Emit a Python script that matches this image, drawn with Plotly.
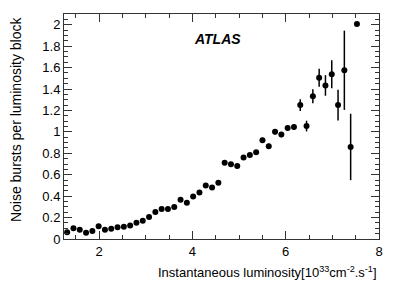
import plotly.graph_objects as go

lumi = [1.3175, 1.4525, 1.5875, 1.7225, 1.8575, 1.9925, 2.1275, 2.2625, 2.3975, 2.5325,
        2.6675, 2.8025, 2.9375, 3.0725, 3.2075, 3.3425, 3.4775, 3.6125, 3.7475, 3.8825,
        4.0175, 4.1525, 4.2875, 4.4225, 4.5575, 4.6925, 4.8275, 4.9625, 5.0975, 5.2325,
        5.3675, 5.5025, 5.6375, 5.7725, 5.9075, 6.0425, 6.1775, 6.3125, 6.4475, 6.5825,
        6.7175, 6.8525, 6.9875, 7.1225, 7.2575, 7.3925, 7.5275]
bursts = [0.062, 0.100, 0.087, 0.059, 0.074, 0.118, 0.087, 0.096, 0.109, 0.115,
          0.127, 0.152, 0.170, 0.205, 0.251, 0.279, 0.279, 0.298, 0.366, 0.338,
          0.397, 0.434, 0.500, 0.481, 0.524, 0.712, 0.698, 0.682, 0.760, 0.784,
          0.809, 0.922, 0.865, 1.000, 0.975, 1.035, 1.045, 1.250, 1.054, 1.333,
          1.504, 1.433, 1.538, 1.250, 1.575, 0.859, 2.006]
errors = [0.01, 0.01, 0.01, 0.01, 0.01, 0.01, 0.01, 0.01, 0.01, 0.01,
          0.01, 0.01, 0.01, 0.01, 0.01, 0.01, 0.01, 0.01, 0.012, 0.012,
          0.012, 0.012, 0.012, 0.012, 0.012, 0.015, 0.015, 0.015, 0.015, 0.015,
          0.015, 0.025, 0.025, 0.025, 0.025, 0.025, 0.025, 0.055, 0.05, 0.065,
          0.084, 0.096, 0.13, 0.143, 0.37, 0.31, 0.0]

x_ticks = [2, 4, 6, 8]
y_ticks = [0, 0.2, 0.4, 0.6, 0.8, 1, 1.2, 1.4, 1.6, 1.8, 2]
y_ticklabels = ["0", "0.2", "0.4", "0.6", "0.8", "1", "1.2", "1.4", "1.6", "1.8", "2"]

FONT = "Liberation Sans, Arial, Helvetica, sans-serif"

fig = go.Figure()
fig.add_trace(go.Scatter(
    x=lumi, y=bursts, mode="markers",
    marker=dict(color="black", size=6, symbol="circle"),
    error_y=dict(type="data", array=errors, visible=True, color="black",
                 thickness=1.5, width=0),
    showlegend=False, cliponaxis=True,
))

axis_common = dict(
    showgrid=False, zeroline=False, showline=True, linecolor="#333333", linewidth=1,
    mirror="ticks", ticks="inside", ticklen=8, tickcolor="#333333", tickwidth=1,
    tickfont=dict(family=FONT, size=13, color="black"), automargin=False,
)

fig.update_xaxes(range=[1.25, 8], tickvals=x_ticks, ticktext=[str(v) for v in x_ticks],
                 minor=dict(ticks="inside", ticklen=4, dtick=0.5, tick0=0,
                            tickcolor="#333333"),
                 **axis_common)
fig.update_yaxes(range=[0, 2.1], tickvals=y_ticks, ticktext=y_ticklabels,
                 minor=dict(ticks="inside", ticklen=4, dtick=0.05, tick0=0,
                            tickcolor="#333333"),
                 **axis_common)

fig.add_annotation(xref="paper", yref="paper", x=1.0, y=-0.145, xanchor="right",
                   yanchor="middle", showarrow=False,
                   text="Instantaneous luminosity[10<sup>33</sup>cm<sup>-2</sup>.s<sup>-1</sup>]",
                   font=dict(family=FONT, size=13, color="black"))
fig.add_annotation(xref="paper", yref="paper", x=-0.152, y=1, xanchor="center",
                   yanchor="top", showarrow=False, textangle=-90,
                   text="Noise bursts per luminosity block",
                   font=dict(family=FONT, size=14, color="black"))
fig.add_annotation(xref="paper", yref="paper", x=0.568, y=0.89, xanchor="right",
                   yanchor="middle", showarrow=False,
                   text="<b><i>ATLAS</i></b>",
                   font=dict(family=FONT, size=14, color="black"))

# page body has an 8px margin, so the figure is shrunk to fit the 399x286 window
fig.update_layout(
    width=391, height=278,
    margin=dict(l=56, r=20, t=6, b=46.5, autoexpand=False),
    paper_bgcolor="white", plot_bgcolor="white",
)

fig.write_html("out.html")
